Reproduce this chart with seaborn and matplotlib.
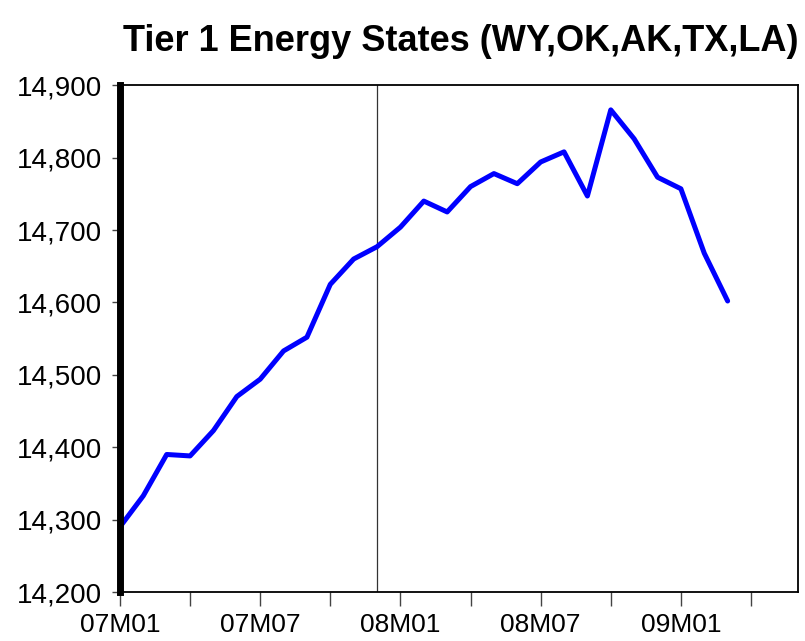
import pandas as pd
import numpy as np
import matplotlib
matplotlib.use("Agg")
import matplotlib.pyplot as plt
import seaborn as sns
from matplotlib.ticker import FuncFormatter, MultipleLocator

sns.set_theme(style="white")
plt.rcParams['font.family'] = ['Liberation Sans', 'DejaVu Sans']
plt.rcParams['text.color'] = 'black'
plt.rcParams['xtick.color'] = 'black'
plt.rcParams['ytick.color'] = 'black'

# monthly values, 07M01 .. 09M03
months = ["07M01", "07M02", "07M03", "07M04", "07M05", "07M06", "07M07", "07M08", "07M09",
          "07M10", "07M11", "07M12", "08M01", "08M02", "08M03", "08M04", "08M05", "08M06",
          "08M07", "08M08", "08M09", "08M10", "08M11", "08M12", "09M01", "09M02", "09M03"]
values = [14290, 14333, 14390, 14388, 14423, 14470, 14494, 14533, 14552,
          14625, 14660, 14677, 14704, 14740, 14725, 14760, 14778, 14764,
          14794, 14808, 14747, 14866, 14826, 14773, 14757, 14668, 14602]
tick_labels = ["07M01", "07M07", "08M01", "08M07", "09M01"]
yticks = [14200, 14300, 14400, 14500, 14600, 14700, 14800, 14900]

df = pd.DataFrame({"idx": np.arange(len(months)), "Month": months, "Jobs": values})

fig = plt.figure(figsize=(8.05, 6.41), dpi=100)
ax = fig.add_axes([0.149, 0.0764, 0.842, 0.7906])

sns.lineplot(x="idx", y="Jobs", data=df, ax=ax, color="#0000ff", linewidth=3.6)

# vertical marker at 07M12
ax.axvline(months.index("07M12"), color="#333333", linewidth=0.9, zorder=1)

ax.set_xlim(0, 29)
ax.set_ylim(14200, 14900)
ax.set_yticks(yticks)
ax.yaxis.set_major_formatter(FuncFormatter(lambda v, p: f"{int(v):,}"))

ax.xaxis.set_major_locator(MultipleLocator(3))
label_pos = [months.index(m) for m in tick_labels]
ax.xaxis.set_major_formatter(FuncFormatter(
    lambda v, p: tick_labels[label_pos.index(int(round(v)))] if int(round(v)) in label_pos else ""))

ax.set_xlabel("")
ax.set_ylabel("")
ax.tick_params(axis="y", direction="out", length=6, width=1, color="#444444",
               labelsize=20, pad=7, left=True)
ax.tick_params(axis="x", direction="out", length=10, width=1, color="#444444",
               labelsize=19, pad=5, bottom=True)

for s in ["top", "right", "bottom"]:
    ax.spines[s].set_color("black")
    ax.spines[s].set_linewidth(1.3)
ax.spines["left"].set_color("black")
ax.spines["left"].set_linewidth(5)

fig.text(0.572, 0.935, "Tier 1 Energy States (WY,OK,AK,TX,LA)", ha="center", va="center",
         fontsize=26, fontweight="bold", color="black")

fig.savefig("out.png", dpi=100)
